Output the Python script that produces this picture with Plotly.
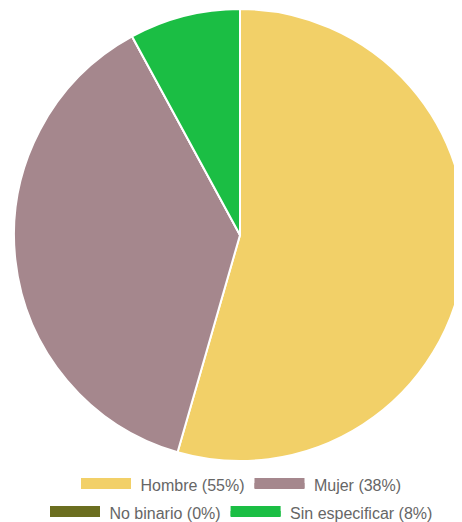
import plotly.graph_objects as go

categories = ["Hombre", "Mujer", "No binario", "Sin especificar"]
values = [55, 38, 0, 8]
legend_labels = ["Hombre (55%)", "Mujer (38%)", "No binario (0%)", "Sin especificar (8%)"]
colors = ["#F2D068", "#A5878D", "#6B6E1F", "#1BBE44"]
legend_groups = ["legend", "legend", "legend2", "legend2"]

W, H = 462, 522

fig = go.Figure()
fig.add_trace(go.Pie(
    labels=categories,
    values=values,
    sort=False,
    direction="clockwise",
    rotation=0,
    marker=dict(colors=colors, line=dict(color="white", width=2)),
    textinfo="none",
    hoverinfo="label+percent",
    showlegend=False,
    domain=dict(x=[6/W, 458/W], y=[69/H, 521/H]),
))

for lab, col, lg in zip(legend_labels, colors, legend_groups):
    fig.add_trace(go.Scatter(
        x=[None], y=[None], mode="lines", name="\u00a0" + lab,
        line=dict(color=col, width=10),
        fill="toself", fillcolor=col,
        legend=lg, hoverinfo="skip",
    ))

legend_common = dict(
    orientation="h", xanchor="center", yanchor="middle",
    xref="container", yref="container",
    font=dict(family="Liberation Sans, Arial, sans-serif", size=16, color="#666666"),
    itemwidth=50, bgcolor="rgba(0,0,0,0)", tracegroupgap=0,
    itemclick=False, itemdoubleclick=False,
)

fig.update_layout(
    width=W, height=H,
    margin=dict(l=0, r=0, t=0, b=0, autoexpand=False),
    paper_bgcolor="white", plot_bgcolor="white",
    xaxis=dict(visible=False), yaxis=dict(visible=False),
    legend=dict(x=233.5/W, y=(H-477)/H, **legend_common),
    legend2=dict(x=233.5/W, y=(H-505)/H, **legend_common),
)

fig.write_html("out.html")
